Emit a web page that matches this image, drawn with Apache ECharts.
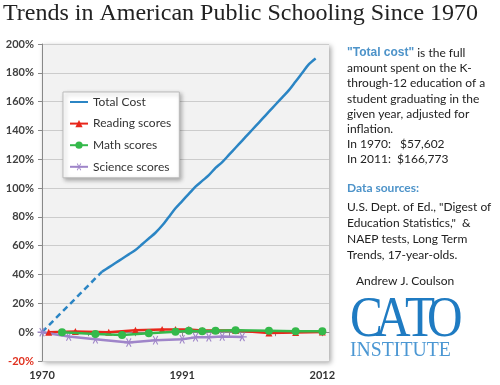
<!DOCTYPE html>
<html><head><meta charset="utf-8">
<script src="https://cdn.jsdelivr.net/npm/echarts@6/dist/echarts.min.js"></script>
<style>html,body{margin:0;padding:0;background:#fff}#c{width:500px;height:385px}</style>
</head><body><div id="c"></div>
<script>
const titleText = 'Trends in American Public Schooling Since 1970';
const xTickValues = [1970,1977,1984,1991,1998,2005,2012];
const xLabelValues = [1970,1991,2012];
const costDashedYears = [1970,1979];
const costDashedVals = [0,42];
const costYears = [1979,1980,1981,1982,1983,1984,1985,1986,1987,1988,1989,1990,1991,1992,1993,1994,1995,1996,1997,1998,1999,2000,2001,2002,2003,2004,2005,2006,2007,2008,2009,2010,2011];
const costVals = [42,45,48,51,54,57,61,65,69,74,80,86,91,96,101,105,109,114,118,123,128,133,138,143,148,153,158,163,168,174,180,186,190];
const readingYears = [1971,1975,1980,1984,1988,1990,1992,1994,1996,1999,2004,2008,2012];
const readingVals = [0,0.4,0,1.4,1.8,1.8,1.8,1.1,1.1,1.1,-0.5,-0.3,0.2];
const mathYears = [1973,1978,1982,1986,1990,1992,1994,1996,1999,2004,2008,2012];
const mathVals = [0,-1.3,-2.0,-0.7,0.3,1.0,0.7,1.0,1.3,1.0,0.7,0.7];
const scienceYears = [1970,1974,1978,1983,1987,1991,1993,1995,1997,2000];
const scienceVals = [0,-3.0,-4.9,-7.2,-5.6,-4.9,-3.6,-3.6,-3.0,-3.3];
const seriesNames = ['Total Cost','Reading scores','Math scores','Science scores'];
const noteLines = ['amount spent on the K-','through-12 education of a','student graduating in the','given year, adjusted for','inflation.','In 1970:   $57,602','In 2011:  $166,773'];
const sourceLines = ['U.S. Dept. of Ed., "Digest of','Education Statistics,"  &','NAEP tests, Long Term','Trends, 17-year-olds.'];

const pair = (xs, ys) => xs.map((x, i) => [x, ys[i]]);
const asterisk = 'path://M-5,0.6L5,0.6L5,-0.6L-5,-0.6Z M1.98,4.63L3.02,4.03L-1.98,-4.63L-3.02,-4.03Z M-3.02,4.03L-1.98,4.63L3.02,-4.03L1.98,-4.63Z';
const C = {cost:'#2b85c4', read:'#e8271b', math:'#34b94a', sci:'#9f85c9'};
const bodyFont = 'Lato';

const chart = echarts.init(document.getElementById('c'), null, {renderer:'canvas'});
const g = [];
g.push({type:'text', left:3, top:2, style:{text:titleText, font:'24px "Liberation Serif"', fill:'#222'}});
const tx = 347;
g.push({type:'text', x:tx, y:53, style:{text:'{b|"Total cost"} is the full', font:'12px '+bodyFont, fill:'#222', verticalAlign:'middle', rich:{b:{fontWeight:'bold', fill:'#4d93c9', font:'bold 12px '+bodyFont}}}});
noteLines.forEach((t,i)=>g.push({type:'text', x:tx, y:68.3+i*15.2, style:{text:t, font:'12px '+bodyFont, fill:'#222', verticalAlign:'middle'}}));
g.push({type:'text', x:tx, y:188, style:{text:'Data sources:', font:'bold 12px '+bodyFont, fill:'#4d93c9', verticalAlign:'middle'}});
sourceLines.forEach((t,i)=>g.push({type:'text', x:tx, y:207+i*16, style:{text:t, font:'12px '+bodyFont, fill:'#222', verticalAlign:'middle'}}));
g.push({type:'text', x:356, y:281, style:{text:'Andrew J. Coulson', font:'12px '+bodyFont, fill:'#222', verticalAlign:'middle'}});
const cato = [['C',350],['A',375],['T',405],['O',427]];
cato.forEach(([ch,x])=>g.push({type:'text', x:x, y:321, scaleX:0.85, style:{text:ch, font:'58px "Liberation Serif"', fill:'#1f7bc2', verticalAlign:'middle'}}));
g.push({type:'text', x:350, y:350.5, scaleX:0.94, style:{text:'INSTITUTE', font:'21px "Liberation Serif"', fill:'#4b97d3', verticalAlign:'middle'}});

chart.setOption({
  animation:false,
  backgroundColor:'#fff',
  grid:{left:42, right:171, top:44, bottom:24, show:true, backgroundColor:'#f2f2f2', borderWidth:0,
        shadowBlur:5, shadowColor:'rgba(0,0,0,0.35)', shadowOffsetX:2, shadowOffsetY:2},
  legend:{data:[{name:seriesNames[0], itemStyle:{opacity:0}}, seriesNames[1], seriesNames[2], seriesNames[3]],
          orient:'vertical', left:63, top:92, padding:[4,8,5,6], itemGap:9.6, itemWidth:18, itemHeight:9,
          backgroundColor:'#fff', borderColor:'#bbb', borderWidth:1, borderRadius:0,
          shadowBlur:4, shadowColor:'rgba(0,0,0,0.3)', shadowOffsetX:2, shadowOffsetY:2,
          textStyle:{fontFamily:bodyFont, fontSize:12, color:'#333'}},
  xAxis:{type:'value', min:1970, max:2013, interval:7,
         axisLine:{show:true, lineStyle:{color:'#888', width:1}},
         axisTick:{show:true, length:4, inside:false, customValues:xTickValues, lineStyle:{color:'#888'}},
         axisLabel:{customValues:xLabelValues, formatter:v=>String(v), fontFamily:bodyFont, fontWeight:'bold', fontSize:11, color:'#333', margin:9},
         splitLine:{show:false}},
  yAxis:{type:'value', min:-20, max:200, interval:20,
         axisLine:{show:true, lineStyle:{color:'#888', width:1}},
         axisTick:{show:true, length:4, lineStyle:{color:'#888'}},
         axisLabel:{fontFamily:bodyFont, fontWeight:'bold', fontSize:11, color:'#404040', margin:8,
                    formatter:v=> v<0 ? '{n|'+v+'%}' : v+'%', rich:{n:{color:'#e0301e', fontFamily:bodyFont, fontWeight:'bold', fontSize:11}}},
         splitLine:{show:true, lineStyle:{color:'#cccccc', width:1.2}}},
  graphic:g,
  series:[
    {name:'Total Cost (est.)', type:'line', data:pair(costDashedYears,costDashedVals), symbol:'none',
     lineStyle:{color:C.cost, width:2.5, type:[6,4]}, z:3},
    {name:seriesNames[0], type:'line', data:pair(costYears,costVals), symbol:'none', smooth:0.3,
     lineStyle:{color:C.cost, width:2.5}, itemStyle:{color:C.cost}, z:3},
    {name:seriesNames[1], type:'line', data:pair(readingYears,readingVals), symbol:'triangle', symbolSize:7,
     lineStyle:{color:C.read, width:2.5}, itemStyle:{color:C.read}, z:4},
    {name:seriesNames[2], type:'line', data:pair(mathYears,mathVals), symbol:'circle', symbolSize:8,
     lineStyle:{color:C.math, width:2.5}, itemStyle:{color:C.math}, z:5},
    {name:seriesNames[3], type:'line', data:pair(scienceYears,scienceVals), symbol:asterisk, symbolSize:9,
     lineStyle:{color:C.sci, width:2.5}, itemStyle:{color:C.sci}, z:4}
  ]
});
</script></body></html>
